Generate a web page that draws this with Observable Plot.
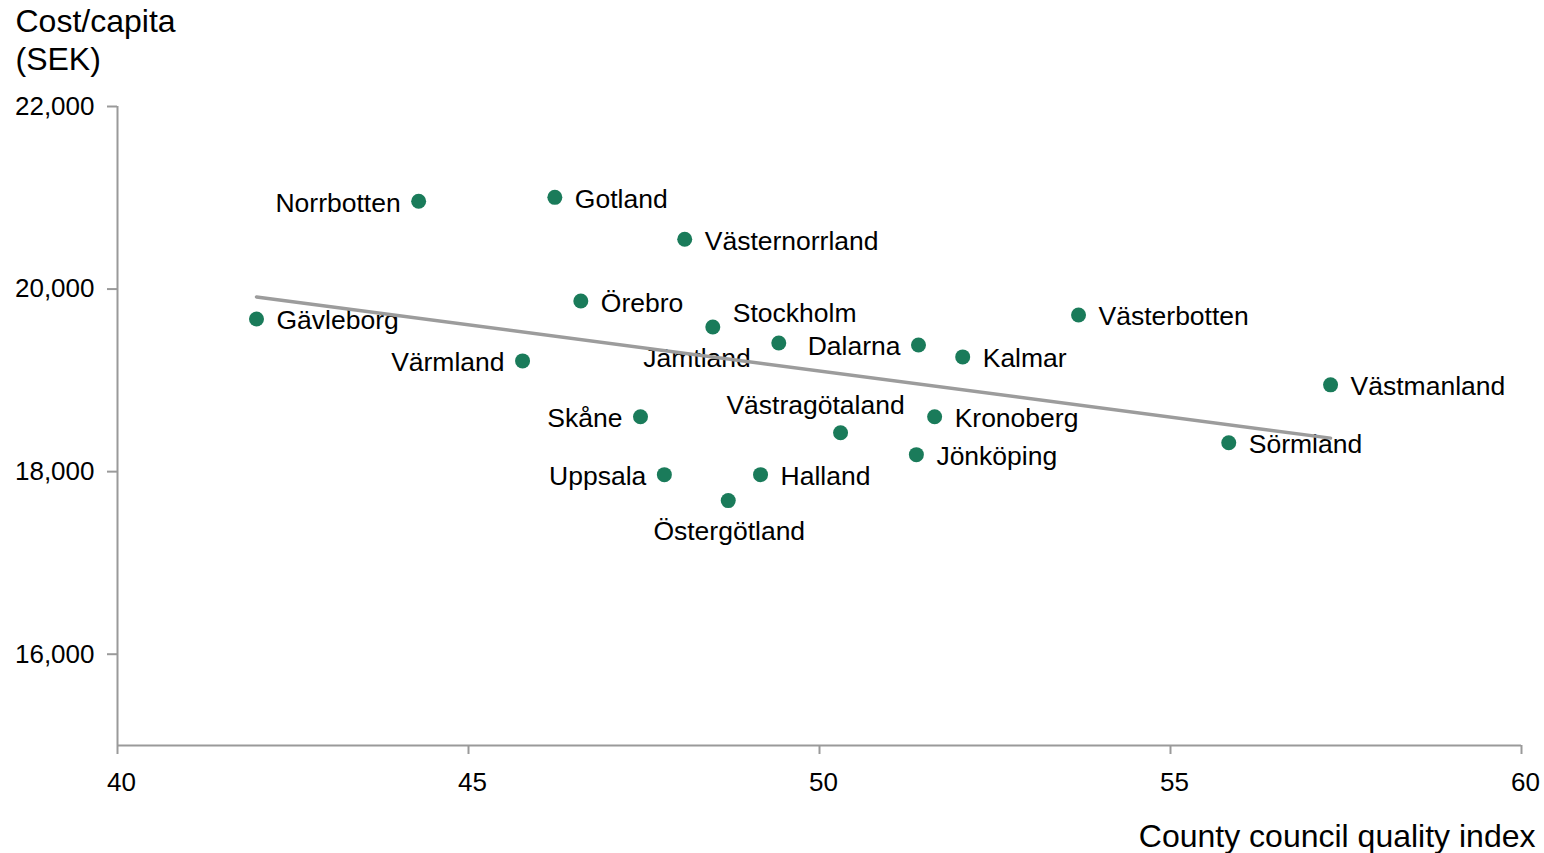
<!DOCTYPE html>
<html>
<head>
<meta charset="utf-8">
<script src="https://cdn.jsdelivr.net/npm/d3@7"></script>
<script src="https://cdn.jsdelivr.net/npm/@observablehq/plot@0.6"></script>
<style>
  html, body { margin: 0; padding: 0; background: #fff; }
  #chart svg { display: block; }
</style>
</head>
<body>
<div id="chart"></div>
<script>
// ---- Data ----
const counties = ["Norrbotten","Gotland","Västernorrland","Örebro","Gävleborg","Stockholm","Jämtland","Dalarna","Kalmar","Västerbotten","Värmland","Västmanland","Skåne","Kronoberg","Västragötaland","Sörmland","Jönköping","Uppsala","Halland","Östergötland"];
const qualityIndex = [44.29,46.23,48.08,46.60,41.98,48.48,49.42,51.41,52.04,53.69,45.77,57.28,47.45,51.64,50.30,55.83,51.38,47.79,49.16,48.70];
const costPerCapita = [20962,21005,20546,19869,19672,19585,19410,19388,19257,19716,19213,18951,18601,18601,18426,18317,18186,17967,17967,17683];
const xTicks = [40,45,50,55,60];
const yTicks = [16000,18000,20000,22000];

const data = counties.map((name, i) => ({name, x: qualityIndex[i], y: costPerCapita[i]}));

// ---- Label placement (annotation layout) ----
const R = {dx: 20, dy: 2, textAnchor: "start"};
const L = {dx: -18, dy: 2, textAnchor: "end"};
const placement = {
  "Norrbotten": L, "Gotland": R, "Västernorrland": R, "Örebro": R, "Gävleborg": R,
  "Stockholm": {dx: 20, dy: -13, textAnchor: "start"},
  "Jämtland": {dx: -28, dy: 16, textAnchor: "end"},
  "Dalarna": L, "Kalmar": R, "Västerbotten": R, "Värmland": L, "Västmanland": R,
  "Skåne": L, "Kronoberg": R,
  "Västragötaland": {dx: -25, dy: -27, textAnchor: "middle"},
  "Sörmland": R, "Jönköping": R, "Uppsala": L, "Halland": R,
  "Östergötland": {dx: 1, dy: 31, textAnchor: "middle"}
};

const FONT = "'Liberation Sans', Arial, Helvetica, sans-serif";
const AXIS = "#9a9a9a";
const GREEN = "#1a7b5a";
const INK = "#000";

const labelMarks = counties.map(name => Plot.text(data.filter(d => d.name === name), {
  x: "x", y: "y", text: "name", fontSize: 26.5, fill: INK,
  lineAnchor: "middle", ...placement[name]
}));

const chart = Plot.plot({
  width: 1544,
  height: 853,
  marginLeft: 117,
  marginRight: 23,
  marginTop: 106,
  marginBottom: 108,
  style: {fontFamily: FONT, fontSize: "26px", color: INK, background: "#fff"},
  x: {domain: [40, 60], ticks: xTicks, label: null},
  y: {domain: [15000, 22000], ticks: yTicks, label: null},
  marks: [
    // x tick marks
    Plot.axisX({ticks: xTicks, tickSize: 9, stroke: AXIS, strokeWidth: 2, strokeOpacity: 1,
      tickFormat: () => "", label: null}),
    // x tick labels (slightly offset right as in the reference)
    Plot.axisX({ticks: xTicks, tickSize: 0, tickPadding: 27, fontSize: 26, fill: INK, dx: 4,
      tickFormat: d => d, label: null}),
    Plot.axisY({ticks: yTicks, tickSize: 10, tickPadding: 13, stroke: AXIS, strokeWidth: 2, strokeOpacity: 1,
      fontSize: 26, fill: INK, tickFormat: d3.format(","), label: null}),
    Plot.ruleX([40], {stroke: AXIS, strokeWidth: 2}),
    Plot.ruleY([15000], {stroke: AXIS, strokeWidth: 2}),
    ...labelMarks,
    Plot.linearRegressionY(data, {x: "x", y: "y", ci: 0, stroke: "#9c9c9c", strokeWidth: 3.5}),
    Plot.dot(data, {x: "x", y: "y", r: 7.5, fill: GREEN, stroke: "none"}),
    Plot.text(["Cost/capita\n(SEK)"], {frameAnchor: "top-left", dx: -102, dy: -102, textAnchor: "start",
      lineAnchor: "top", lineHeight: 1.19, fontSize: 32, fill: INK}),
    Plot.text(["County council quality index"], {frameAnchor: "bottom-right", dx: 14, dy: 79, textAnchor: "end",
      lineAnchor: "top", fontSize: 32, fill: INK})
  ]
});

document.getElementById("chart").appendChild(chart);
</script>
</body>
</html>
